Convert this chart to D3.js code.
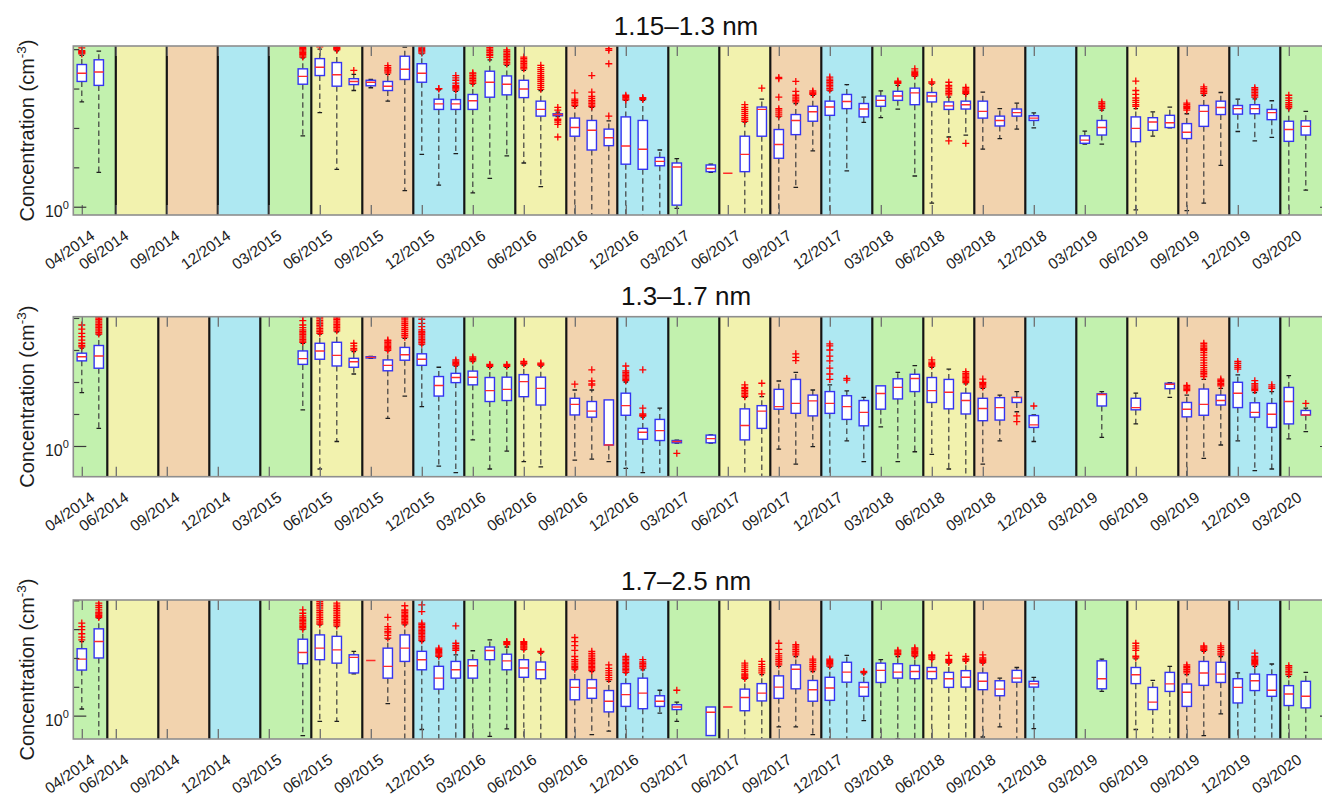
<!DOCTYPE html>
<html>
<head>
<meta charset="utf-8">
<script src="https://cdn.jsdelivr.net/npm/d3@7"></script>
<style>
  body { margin: 0; background: #fff; }
  svg { display: block; }
  text { font-family: "Liberation Sans", Arial, Helvetica, sans-serif; }
</style>
</head>
<body>
<svg id="chart" width="1322" height="798"></svg>
<script>
// Monthly statistics of cluster number concentration, stored as log10(cm^-3).
// Whisker ends that run past the lower axis limit are kept at -1.2.

// ---------- 1.15–1.3 nm ----------
const p1Months = ["2014-04","2014-05",
  "2015-05","2015-06","2015-07","2015-08","2015-09","2015-10","2015-11","2015-12",
  "2016-01","2016-02","2016-03","2016-04","2016-05","2016-06","2016-07","2016-08",
  "2016-09","2016-10","2016-11","2016-12","2017-01","2017-02","2017-03",
  "2017-05","2017-06","2017-07","2017-08","2017-09","2017-10","2017-11","2017-12",
  "2018-01","2018-02","2018-03","2018-04","2018-05","2018-06","2018-07","2018-08","2018-09","2018-10","2018-11","2018-12",
  "2019-03","2019-04",
  "2019-06","2019-07","2019-08","2019-09","2019-10","2019-11","2019-12","2020-01","2020-02","2020-03","2020-04"];
const p1Low = [2.66, 0.87,
  1.80, 2.39, 0.95, 2.95, 3.02, 2.68, 0.41, 1.33,
  0.55, 1.35, 0.35, 0.72, 1.29, 1.11, 0.51, 2.29,
  -1.2, -1.2, -1.2, -1.2, -1.2, -1.2, -0.04,
  0.87, 0.85, -1.2, -1.2, -1.2, 0.49, 1.42, -1.2,
  0.91, 2.14, 2.26, 2.48, 0.78, 0.09, 1.77, 1.82, 1.46, 1.73, 1.97, 2.00,
  1.59, 1.59,
  -0.08, 1.79, 2.00, -0.10, 0.09, 1.05, 1.91, 1.67, 1.76, -1.2, 0.42];
const p1Q1 = [3.18, 3.08,
  3.11, 3.33, 3.06, 3.10, 3.07, 2.95, 3.23, 3.16,
  2.47, 2.47, 2.47, 2.78, 2.84, 2.77, 2.30, 2.31,
  1.79, 1.44, 1.55, 1.08, 0.95, 1.04, 0.04,
  0.89, 0.85, 0.89, 1.79, 1.23, 1.83, 2.17, 2.32,
  2.49, 2.28, 2.55, 2.70, 2.59, 2.66, 2.47, 2.48, 2.25, 2.05, 2.30, 2.19,
  1.61, 1.82,
  1.65, 1.94, 2.01, 1.73, 2.04, 2.34, 2.35, 2.36, 2.21, 1.66, 1.82];
const p1Median = [3.39, 3.42,
  3.31, 3.54, 3.35, 3.18, 3.16, 3.06, 3.49, 3.39,
  2.61, 2.61, 2.69, 3.16, 3.11, 2.99, 2.47, 2.34,
  2.01, 1.94, 1.75, 1.54, 1.46, 1.15, 1.01,
  0.97, 0.85, 1.33, 2.47, 1.58, 2.19, 2.41, 2.53,
  2.67, 2.48, 2.70, 2.81, 2.89, 2.81, 2.56, 2.59, 2.42, 2.19, 2.39, 2.25,
  1.69, 2.01,
  1.99, 2.15, 2.13, 1.89, 2.42, 2.52, 2.49, 2.49, 2.39, 1.96, 2.04];
const p1Q3 = [3.61, 3.73,
  3.50, 3.76, 3.66, 3.25, 3.21, 3.18, 3.82, 3.63,
  2.73, 2.72, 2.85, 3.44, 3.32, 3.21, 2.68, 2.36,
  2.25, 2.19, 1.97, 2.28, 2.19, 1.25, 1.11,
  1.06, 0.85, 1.79, 2.53, 1.96, 2.34, 2.55, 2.68,
  2.85, 2.62, 2.81, 2.93, 3.01, 2.90, 2.66, 2.68, 2.68, 2.30, 2.48, 2.31,
  1.80, 2.19,
  2.28, 2.26, 2.32, 2.11, 2.57, 2.68, 2.57, 2.59, 2.47, 2.17, 2.18];
const p1High = [3.84, 3.95,
  3.78, 4.00, 3.96, 3.36, 3.23, 3.36, 4.05, 3.88,
  2.97, 2.93, 3.11, 3.73, 3.59, 3.46, 2.95, 2.40,
  2.55, 2.52, 2.18, 2.70, 2.70, 1.44, 1.22,
  1.08, 0.85, 2.15, 2.73, 2.28, 2.62, 2.83, 2.94,
  3.10, 2.78, 2.94, 3.08, 3.31, 3.11, 2.78, 2.85, 2.91, 2.49, 2.63, 2.38,
  1.92, 2.45,
  2.49, 2.41, 2.53, 2.36, 2.83, 2.90, 2.73, 2.74, 2.69, 2.49, 2.42];
const p1Outliers = [
  [3.88,3.90,3.92,3.94,3.96,4.03], [],
  [3.80,3.83,3.86,3.89,3.92,3.95,3.98,4.01,4.04,4.07], [4.06], [3.98,4.00,4.02,4.04,4.06], [3.46], [],
  [3.40,3.44,3.47,3.50,3.53,3.58], [], [3.90,3.93,3.96,3.99,4.02,4.05],
  [2.99,3.00], [2.96,2.99,3.02,3.05,3.08,3.14,3.21,3.27,3.33], [3.13,3.17,3.21,3.25,3.29,3.33,3.37,3.40],
  [3.79,3.84,3.87,3.92,3.96,4.00,4.04], [3.62,3.66,3.70,3.74,3.78,3.82,3.86,3.90,3.94,3.98],
  [3.50,3.53,3.57,3.60,3.64,3.68,3.72,3.76,3.80],
  [2.98,3.03,3.08,3.13,3.18,3.23,3.28,3.33,3.38,3.43,3.48,3.53,3.59], [1.77,2.09,2.15,2.19,2.22,2.45,2.52],
  [2.57,2.61,2.65,2.69,2.73,2.89], [2.54,2.58,2.62,2.66,2.70,2.75,2.80,2.91,3.33], [2.30,3.63,3.97,4.01],
  [2.71,2.74,2.77,2.80,2.83], [2.72,2.75,2.77], [], [],
  [], [], [2.17,2.22,2.27,2.32,2.37,2.42,2.47,2.52,2.59], [3.01], [2.30,2.35,2.40,2.45,2.49,2.78,3.25,3.28],
  [2.66,2.70,2.74,2.78,2.83,2.93,3.18], [2.85,2.88,2.91,2.94], [2.96,3.00,3.04,3.08,3.12,3.16,3.20,3.24,3.29],
  [], [], [], [3.13,3.15,3.17,3.19], [3.32,3.35,3.38,3.41,3.44,3.50], [3.14,3.17],
  [1.67,2.84,2.88,2.92,2.96,3.00,3.04,3.08,3.16], [1.61,2.87,2.90,2.93,2.96,2.99,3.03], [], [], [], [],
  [], [2.50,2.54,2.58,2.62,2.66],
  [2.55,2.59,2.65,2.70,2.76,2.85,2.95,3.19], [], [], [2.45,2.49,2.52,2.55,2.59,2.63], [2.88,2.92,2.96,3.00,3.04],
  [], [], [2.78,2.82,2.86,2.90,2.94,2.98,3.02], [], [2.51,2.55,2.59,2.64,2.70,2.76,2.83], []];

// ---------- 1.3–1.7 nm ----------
const p2Months = ["2014-04","2014-05",
  "2015-05","2015-06","2015-07","2015-08","2015-09","2015-10","2015-11","2015-12",
  "2016-01","2016-02","2016-03","2016-04","2016-05","2016-06","2016-07",
  "2016-09","2016-10","2016-11","2016-12","2017-01","2017-02","2017-03",
  "2017-05","2017-07","2017-08","2017-09","2017-10","2017-11","2017-12",
  "2018-01","2018-02","2018-03","2018-04","2018-05","2018-06","2018-07","2018-08","2018-09","2018-10","2018-11","2018-12",
  "2019-04","2019-06",
  "2019-08","2019-09","2019-10","2019-11","2019-12","2020-01","2020-02","2020-03","2020-04"];
const p2Low = [1.67, 0.55,
  1.13, -0.72, 0.14, 2.25, 2.74, 0.86, 1.56, 1.23,
  -0.63, -0.83, 0.19, -0.72, -0.16, -0.49, -0.65,
  -0.44, -0.41, -0.49, -0.70, -0.83, -1.2, 0.09,
  0.09, -1.2, -1.2, -0.10, -0.57, -0.02, -1.2,
  0.16, -0.49, 0.60, -0.49, -0.18, -0.26, -0.72, -1.2, -0.57, 0.16, 1.07, 0.14,
  0.27, 0.69,
  1.52, -1.2, -0.39, 0.03, 0.16, -0.77, -0.72, 0.22, 0.45];
const p2Q1 = [2.66, 2.43,
  2.55, 2.71, 2.50, 2.46, 2.75, 2.35, 2.68, 2.52,
  1.56, 1.98, 1.91, 1.39, 1.42, 1.54, 1.28,
  0.97, 0.90, 0.03, 0.96, 0.21, 0.17, 0.10,
  0.10, 0.19, 0.55, 1.15, 1.02, 0.94, 1.02,
  0.83, 0.63, 1.15, 1.47, 1.70, 1.36, 1.16, 1.00, 0.79, 0.81, 1.36, 0.58,
  1.25, 1.13,
  1.79, 0.91, 0.96, 1.28, 1.20, 0.90, 0.58, 0.69, 0.97];
const p2Median = [2.79, 2.81,
  2.73, 2.97, 2.83, 2.63, 2.77, 2.52, 2.85, 2.71,
  1.89, 2.14, 2.15, 1.73, 1.77, 2.01, 1.80,
  1.30, 1.09, 0.03, 1.26, 0.43, 0.48, 0.14,
  0.23, 0.64, 1.09, 1.23, 1.33, 1.41, 1.33,
  1.23, 1.05, 1.64, 1.83, 2.11, 1.73, 1.68, 1.42, 1.17, 1.20, 1.51, 0.66,
  1.61, 1.20,
  1.93, 1.15, 1.30, 1.42, 1.65, 1.05, 0.99, 1.39, 0.97];
const p2Q3 = [2.90, 3.14,
  2.97, 3.21, 3.24, 2.74, 2.79, 2.69, 3.08, 2.88,
  2.17, 2.27, 2.34, 2.14, 2.15, 2.23, 2.15,
  1.49, 1.39, 1.44, 1.65, 0.55, 0.83, 0.17,
  0.34, 1.16, 1.26, 1.77, 2.08, 1.59, 1.70,
  1.57, 1.42, 1.88, 2.10, 2.24, 2.14, 2.08, 1.65, 1.49, 1.51, 1.52, 0.95,
  1.63, 1.49,
  1.96, 1.36, 1.78, 1.59, 1.99, 1.35, 1.33, 1.83, 1.11];
const p2High = [3.06, 3.47,
  3.21, 3.50, 3.57, 2.95, 2.80, 2.97, 3.36, 3.16,
  2.46, 2.50, 2.64, 2.46, 2.46, 2.53, 2.50,
  1.75, 1.75, 1.44, 2.00, 0.90, 1.18, 0.18,
  0.35, 1.52, 1.54, 2.03, 2.30, 1.75, 1.91,
  1.72, 1.52, 1.88, 2.30, 2.51, 2.46, 2.40, 1.94, 1.80, 1.59, 1.70, 0.97,
  1.70, 1.65,
  1.98, 1.59, 2.08, 1.80, 2.22, 1.67, 1.70, 2.20, 1.18];
const p2Outliers = [
  [3.10,3.14,3.21,3.31,3.42,3.52,3.65,3.78], [3.50,3.55,3.60,3.65,3.70,3.75,3.80,3.85,3.90,3.95,4.00,4.04],
  [3.24,3.28,3.33,3.38,3.43,3.48,3.53,3.58,3.63,3.70,3.78,3.92,4.04],
  [3.52,3.57,3.62,3.67,3.72,3.77,3.82,3.87,3.92,3.97,4.02],
  [3.60,3.65,3.70,3.75,3.80,3.85,3.90,3.95,4.00,4.04], [3.00,3.05,3.13,3.21], [],
  [2.99,3.03,3.07,3.11,3.15,3.19,3.23,3.28,3.31],
  [3.40,3.46,3.52,3.58,3.64,3.70,3.76,3.82,3.88,3.94,4.00,4.04],
  [3.18,3.23,3.28,3.33,3.38,3.43,3.48,3.53,3.57,3.63,3.73,3.83,3.96,4.04],
  [], [2.53,2.57,2.61,2.65,2.69], [2.66,2.70,2.74,2.78], [2.49,2.52,2.55], [2.49,2.52,2.55], [2.57,2.60,2.64], [2.53,2.56,2.59],
  [1.93], [1.90,1.94,2.03,2.38], [], [2.04,2.08,2.12,2.16,2.20,2.25,2.30,2.35,2.50], [0.93,0.96,1.00,1.18,2.38], [], [-0.23],
  [], [1.54,1.59,1.64,1.69,1.74,1.79,1.83,1.91], [1.63,1.96], [], [2.67,2.77,2.88], [], [2.08,2.25,2.43,2.66,2.81,3.00,3.13,3.19],
  [2.06,2.11], [], [], [], [], [2.50,2.54,2.58,2.62,2.69], [], [1.98,2.02,2.06,2.10,2.14,2.18,2.22,2.26,2.32],
  [1.84,1.88,1.92,1.96,1.99,2.09], [], [0.76,0.94], [1.25],
  [], [],
  [], [1.73,1.77,1.81,1.85,1.89],
  [2.17,2.22,2.27,2.32,2.38,2.45,2.52,2.60,2.68,2.76,2.84,2.92,2.98,3.02,3.05,3.10,3.15,3.21],
  [1.88,1.92,1.96,2.01,2.05,2.09], [2.40,2.46,2.52,2.58,2.64], [1.73,1.77,1.81,1.85,1.90,1.95,2.04], [1.80,1.85,1.91], [], [1.33]];

// ---------- 1.7–2.5 nm ----------
const p3Months = ["2014-04","2014-05",
  "2015-05","2015-06","2015-07","2015-08","2015-09","2015-10","2015-11","2015-12",
  "2016-01","2016-02","2016-03","2016-04","2016-05","2016-06","2016-07",
  "2016-09","2016-10","2016-11","2016-12","2017-01","2017-02","2017-03",
  "2017-05","2017-06","2017-07","2017-08","2017-09","2017-10","2017-11","2017-12",
  "2018-01","2018-02","2018-03","2018-04","2018-05","2018-06","2018-07","2018-08","2018-09","2018-10","2018-11","2018-12",
  "2019-04",
  "2019-06","2019-07","2019-08","2019-09","2019-10","2019-11","2019-12","2020-01","2020-02","2020-03","2020-04"];
const p3Low = [0.23, -1.2,
  -0.69, -0.20, -0.20, 1.45, 1.91, 0.42, -1.2, -0.48,
  -1.2, -1.2, -1.2, -0.72, -0.46, -1.2, -1.2,
  -1.2, -0.66, -0.54, -1.2, -1.2, 0.09, -0.20,
  -0.69, 0.30, -1.2, -1.2, -0.39, -0.39, -0.66, -1.2,
  -1.2, -0.17, -1.2, -0.80, -1.2, -1.2, -1.2, -1.2, -0.74, -0.39, -1.2, -0.45,
  0.84,
  -0.48, -1.2, -1.2, -1.2, -0.69, 0.06, -1.2, -1.2, -1.2, -1.2, -1.2];
const p3Q1 = [1.58, 2.00,
  1.80, 1.94, 1.82, 1.48, 1.91, 1.30, 1.88, 1.59,
  0.92, 1.30, 1.30, 1.94, 1.59, 1.33, 1.28,
  0.55, 0.60, 0.13, 0.32, 0.24, 0.32, 0.21,
  -0.69, 0.30, 0.17, 0.51, 0.60, 0.93, 0.50, 0.53,
  1.16, 0.67, 1.15, 1.30, 1.28, 1.28, 0.98, 0.99, 0.90, 0.69, 1.16, 0.99,
  0.93,
  1.11, 0.21, 0.84, 0.32, 1.05, 1.15, 0.44, 0.87, 0.67, 0.35, 0.27];
const p3Median = [1.96, 2.57,
  2.19, 2.34, 2.28, 2.02, 1.91, 1.71, 2.34, 1.94,
  1.30, 1.59, 1.73, 2.26, 1.90, 1.65, 1.59,
  0.98, 0.96, 0.50, 0.73, 0.78, 0.50, 0.30,
  0.12, 0.30, 0.63, 0.78, 0.99, 1.61, 0.90, 0.96,
  1.51, 0.99, 1.57, 1.51, 1.53, 1.53, 1.28, 1.33, 1.19, 0.92, 1.30, 1.10,
  1.28,
  1.42, 0.47, 1.10, 0.81, 1.48, 1.44, 0.98, 1.21, 0.88, 0.75, 0.67];
const p3Q3 = [2.32, 3.01,
  2.65, 2.80, 2.75, 2.11, 1.91, 2.34, 2.80, 2.23,
  1.71, 1.88, 1.94, 2.38, 2.13, 1.94, 1.86,
  1.25, 1.25, 0.87, 1.11, 1.30, 0.69, 0.38,
  0.30, 0.30, 0.92, 1.11, 1.38, 1.76, 1.22, 1.33,
  1.85, 1.15, 1.82, 1.80, 1.74, 1.67, 1.50, 1.56, 1.48, 1.21, 1.57, 1.19,
  1.90,
  1.67, 0.98, 1.50, 1.10, 1.88, 1.85, 1.28, 1.44, 1.42, 1.04, 1.19];
const p3High = [2.57, 3.38,
  2.98, 3.15, 3.09, 2.23, 1.91, 2.65, 3.15, 2.57,
  2.03, 2.11, 2.25, 2.63, 2.38, 2.28, 2.17,
  1.59, 1.53, 1.19, 1.48, 1.59, 0.88, 0.47,
  0.30, 0.30, 1.27, 1.42, 1.71, 2.05, 1.53, 1.68,
  2.09, 1.45, 1.94, 2.05, 2.05, 1.94, 1.82, 1.88, 1.82, 1.30, 1.67, 1.33,
  1.96,
  1.97, 1.22, 1.71, 1.42, 2.23, 2.05, 1.48, 1.71, 1.79, 1.36, 1.50];
const p3Outliers = [
  [2.63,2.72,2.84,2.98,3.09,3.21], [3.40,3.44,3.48,3.52,3.56,3.59,3.67,3.75,3.82,3.90],
  [3.00,3.05,3.10,3.15,3.20,3.25,3.30,3.35,3.40,3.46,3.55,3.67],
  [3.17,3.22,3.28,3.34,3.40,3.46,3.52,3.58,3.64,3.70,3.76,3.82,3.88,3.95,4.02],
  [3.11,3.17,3.23,3.29,3.35,3.41,3.47,3.53,3.59,3.65,3.71,3.77,3.83,3.90],
  [], [], [2.69,2.78,2.87,2.92,3.00,3.09,3.41],
  [3.18,3.23,3.28,3.33,3.38,3.43,3.48,3.53,3.58,3.63,3.67,3.81],
  [2.60,2.65,2.70,2.75,2.80,2.85,2.90,2.95,3.00,3.05,3.10,3.16,3.21,3.61,3.84],
  [2.06,2.10,2.14,2.18,2.22,2.26,2.30,2.34], [2.26,2.32,2.38,2.44,2.51,3.11], [], [],
  [2.46,2.50,2.54,2.57], [2.30,2.34,2.38,2.42,2.46,2.50,2.54,2.57], [2.20,2.23],
  [1.61,1.66,1.71,1.76,1.82,1.88,1.94,2.05,2.26,2.43,2.57,2.71],
  [1.56,1.61,1.66,1.71,1.76,1.81,1.86,1.92,1.98,2.04,2.10,2.16,2.23],
  [1.25,1.32,1.40,1.48,1.56,1.64,1.76],
  [1.50,1.55,1.60,1.65,1.70,1.75,1.80,1.85,1.90,1.95,2.00,2.05],
  [1.65,1.70,1.75,1.80,1.86,1.94], [], [0.88],
  [], [], [1.29,1.33,1.37,1.41,1.45,1.53,1.60,1.68,1.75,1.82], [1.48,1.55,1.62,1.70,1.78,1.88],
  [1.76,1.82,1.88,1.94,2.00,2.07,2.15,2.30,2.51], [2.11,2.17,2.23,2.29,2.35,2.41,2.46],
  [1.59,1.65,1.71,1.77,1.84,1.90,1.96], [1.72,1.76,1.80,1.84,1.88,1.92,1.96],
  [], [1.49,1.53], [], [2.12,2.16,2.20,2.24,2.27], [2.07,2.11,2.15,2.19,2.23,2.27,2.31,2.35],
  [1.96,2.00,2.04,2.08,2.11], [1.84,1.88,1.92,1.95,2.09], [1.90,1.94,1.97,2.05], [1.84,1.88,1.92,1.96,2.00,2.11],
  [], [], [],
  [],
  [2.00,2.06,2.26,2.34,2.42,2.51], [], [], [1.48,1.54,1.60,1.66,1.71,1.76], [2.26,2.30,2.34,2.38,2.42],
  [2.11,2.17,2.23,2.30,2.36,2.42], [], [1.76,1.80,1.84,1.88,1.92,1.96,2.00,2.05,2.17], [],
  [1.42,1.48,1.54,1.61,1.67,1.73], []];

// Panel titles (size ranges)
const panelTitles = ["1.15\u20131.3 nm", "1.3\u20131.7 nm", "1.7\u20132.5 nm"];

// Axis limits, log10(cm^-3)
const yLimits = [[-0.21, 4.08], [-0.96, 4.04], [-0.81, 4.01]];

// Season boundaries in months counted from 2014-04 (spring, summer, autumn, winter, ...)
const seasonEdgesTop = [-0.5, 2, 5, 8, 11, 13.5, 16.5, 19.5, 22.5, 25.5, 28.5, 31.5, 34.5, 37.5,
  40.5, 43.5, 46.5, 49.5, 52.5, 55.5, 58.5, 61.5, 64.5, 67.5, 70.5];
const seasonEdges = [-0.5, 1.5, 4.5, 7.5, 10.5, 13.5, 16.5, 19.5, 22.5, 25.5, 28.5, 31.5, 34.5, 37.5,
  40.5, 43.5, 46.5, 49.5, 52.5, 55.5, 58.5, 61.5, 64.5, 67.5, 70.5];
const seasonColors = ["#c2f1ae", "#f2f2ae", "#f2d3ae", "#aee8f2"];

// Tick months on the time axis
const tickMonths = ["2014-04","2014-06","2014-09","2014-12","2015-03","2015-06","2015-09","2015-12",
  "2016-03","2016-06","2016-09","2016-12","2017-03","2017-06","2017-09","2017-12",
  "2018-03","2018-06","2018-09","2018-12","2019-03","2019-06","2019-09","2019-12","2020-03"];

// ---------- drawing ----------
const monthIndex = s => { const [yy, mm] = s.split("-").map(Number); return (yy - 2014) * 12 + (mm - 4); };
const monthLabel = s => { const [yy, mm] = s.split("-"); return `${mm}/${yy}`; };

const panels = [
  { months: p1Months, lo: p1Low, q1: p1Q1, med: p1Median, q3: p1Q3, hi: p1High, out: p1Outliers, edges: seasonEdgesTop },
  { months: p2Months, lo: p2Low, q1: p2Q1, med: p2Median, q3: p2Q3, hi: p2High, out: p2Outliers, edges: seasonEdges },
  { months: p3Months, lo: p3Low, q1: p3Q1, med: p3Median, q3: p3Q3, hi: p3High, out: p3Outliers, edges: seasonEdges }
];
const frames = [[46, 215], [316.7, 476.7], [600, 739]];
const titleBaselines = [35, 305, 590];

const svg = d3.select("#chart");
const plotLeft = 73.3, plotRight = 1333;
const x = d3.scaleLinear().domain([-0.5, 73.6]).range([plotLeft, plotRight]);
const monthPx = x(1) - x(0);
const halfBox = monthPx * 0.275;
const halfCap = monthPx * 0.135;
const tickIdx = tickMonths.map(monthIndex);

panels.forEach((p, k) => {
  const [top, bottom] = frames[k];
  const y = d3.scaleLog().domain([10 ** yLimits[k][0], 10 ** yLimits[k][1]]).range([bottom, top]);
  const Y = v => y(10 ** v);
  const g = svg.append("g");

  const clipId = "plotclip" + k;
  svg.append("clipPath").attr("id", clipId).append("rect")
    .attr("x", plotLeft).attr("y", top).attr("width", plotRight - plotLeft).attr("height", bottom - top);
  const plot = g.append("g").attr("clip-path", `url(#${clipId})`);

  // season backgrounds
  const ends = p.edges.slice(1).concat([x.domain()[1]]);
  plot.selectAll("rect.season").data(p.edges).join("rect")
    .attr("class", "season")
    .attr("x", d => x(d)).attr("y", top)
    .attr("width", (d, i) => x(ends[i]) - x(d)).attr("height", bottom - top)
    .attr("fill", (d, i) => seasonColors[i % 4]);
  plot.selectAll("line.edge").data(p.edges.slice(1)).join("line")
    .attr("class", "edge")
    .attr("x1", d => x(d)).attr("x2", d => x(d)).attr("y1", top).attr("y2", bottom)
    .attr("stroke", "#141414").attr("stroke-width", 2.2);

  // inward ticks
  const tickColor = "#6f6f6f";
  const xb = g.append("g").attr("transform", `translate(0,${bottom})`)
    .call(d3.axisBottom(x).tickValues(tickIdx).tickSizeInner(-10).tickSizeOuter(0)
      .tickFormat((d, i) => monthLabel(tickMonths[i])));
  xb.select(".domain").remove();
  xb.attr("color", tickColor).attr("font-size", null).attr("font-family", null);
  xb.selectAll(".tick line").attr("stroke-width", 1.3);
  xb.selectAll(".tick text")
    .attr("y", 0).attr("dy", "0.72em")
    .attr("transform", "translate(7,14) rotate(-35)")
    .attr("text-anchor", "end")
    .attr("fill", "#1c1c1c").style("font-size", "15.5px");

  const xt = g.append("g").attr("transform", `translate(0,${top})`)
    .call(d3.axisTop(x).tickValues(tickIdx).tickSizeInner(-10).tickSizeOuter(0).tickFormat(""));
  xt.select(".domain").remove();
  xt.attr("color", tickColor).selectAll(".tick line").attr("stroke-width", 1.3);

  const decades = [10, 100, 1000, 10000].filter(v => v >= y.domain()[0] && v <= y.domain()[1]);
  [["L", plotLeft], ["R", plotRight]].forEach(([side, px]) => {
    const maker = side === "L" ? d3.axisLeft : d3.axisRight;
    const minor = g.append("g").attr("transform", `translate(${px},0)`)
      .call(maker(y).tickValues(decades).tickSizeInner(-6).tickSizeOuter(0).tickFormat(""));
    minor.select(".domain").remove();
    minor.attr("color", "#3a3a3a").selectAll(".tick line").attr("stroke-width", 1.2);
    const major = g.append("g").attr("transform", `translate(${px},0)`)
      .call(maker(y).tickValues([1]).tickSizeInner(-13).tickSizeOuter(0).tickFormat(""));
    major.select(".domain").remove();
    major.attr("color", "#3a3a3a").selectAll(".tick line").attr("stroke-width", 1.2);
    if (side === "L") {
      major.selectAll(".tick text").remove();
      major.selectAll(".tick").append("text")
        .attr("x", -4.5).attr("y", 9.5).attr("text-anchor", "end")
        .attr("fill", "#1c1c1c").style("font-size", "16px")
        .call(t => {
          t.append("tspan").text("10");
          t.append("tspan").attr("dy", -8).style("font-size", "11px").text("0");
        });
    }
  });

  // box plots
  const stats = p.months.map((m, i) => ({
    m: monthIndex(m), lo: p.lo[i], q1: p.q1[i], med: p.med[i], q3: p.q3[i], hi: p.hi[i], out: p.out[i]
  }));
  const boxes = plot.selectAll("g.box").data(stats).join("g").attr("class", "box")
    .attr("transform", d => `translate(${x(d.m)},0)`);

  boxes.filter(d => d.hi > d.q3).append("line")
    .attr("y1", d => Y(d.q3)).attr("y2", d => Y(d.hi))
    .attr("stroke", "#3c3c3c").attr("stroke-width", 1.2).attr("stroke-dasharray", "5.5,3.5");
  boxes.filter(d => d.lo < d.q1).append("line")
    .attr("y1", d => Y(d.q1)).attr("y2", d => Y(d.lo))
    .attr("stroke", "#3c3c3c").attr("stroke-width", 1.2).attr("stroke-dasharray", "5.5,3.5");
  boxes.filter(d => d.hi > d.q3).append("line")
    .attr("x1", -halfCap).attr("x2", halfCap).attr("y1", d => Y(d.hi)).attr("y2", d => Y(d.hi))
    .attr("stroke", "#1e1e1e").attr("stroke-width", 1.3);
  boxes.filter(d => d.lo < d.q1).append("line")
    .attr("x1", -halfCap).attr("x2", halfCap).attr("y1", d => Y(d.lo)).attr("y2", d => Y(d.lo))
    .attr("stroke", "#1e1e1e").attr("stroke-width", 1.3);

  boxes.filter(d => d.q3 > d.q1).append("rect")
    .attr("x", -halfBox).attr("width", 2 * halfBox)
    .attr("y", d => Y(d.q3)).attr("height", d => Y(d.q1) - Y(d.q3))
    .attr("fill", "#fff").attr("stroke", "#3434f2").attr("stroke-width", 1.4);
  boxes.append("line")
    .attr("x1", -halfBox).attr("x2", halfBox)
    .attr("y1", d => Y(d.med)).attr("y2", d => Y(d.med))
    .attr("stroke", "#ff2b2b").attr("stroke-width", 1.4);

  boxes.selectAll("path.outlier").data(d => d.out).join("path")
    .attr("class", "outlier")
    .attr("d", v => `M-3.5,${Y(v)}H3.5M0,${Y(v) - 3.5}V${Y(v) + 3.5}`)
    .attr("stroke", "#ff0000").attr("stroke-width", 1.3).attr("fill", "none");

  // frame
  g.append("rect").attr("x", plotLeft).attr("y", top)
    .attr("width", plotRight - plotLeft).attr("height", bottom - top)
    .attr("fill", "none").attr("stroke", "#8e8e8e").attr("stroke-width", 1.6);

  // titles and labels
  g.append("text").attr("x", 686).attr("y", titleBaselines[k])
    .attr("text-anchor", "middle").attr("fill", "#111").style("font-size", "26px")
    .text(panelTitles[k]);

  g.append("text")
    .attr("transform", `translate(34,${(top + bottom) / 2}) rotate(-90)`)
    .attr("text-anchor", "middle").attr("fill", "#1c1c1c").style("font-size", "20px")
    .call(t => {
      t.append("tspan").text("Concentration (cm");
      t.append("tspan").attr("dy", -8).style("font-size", "13.5px").text("-3");
      t.append("tspan").attr("dy", 8).text(")");
    });
});
</script>
</body>
</html>
